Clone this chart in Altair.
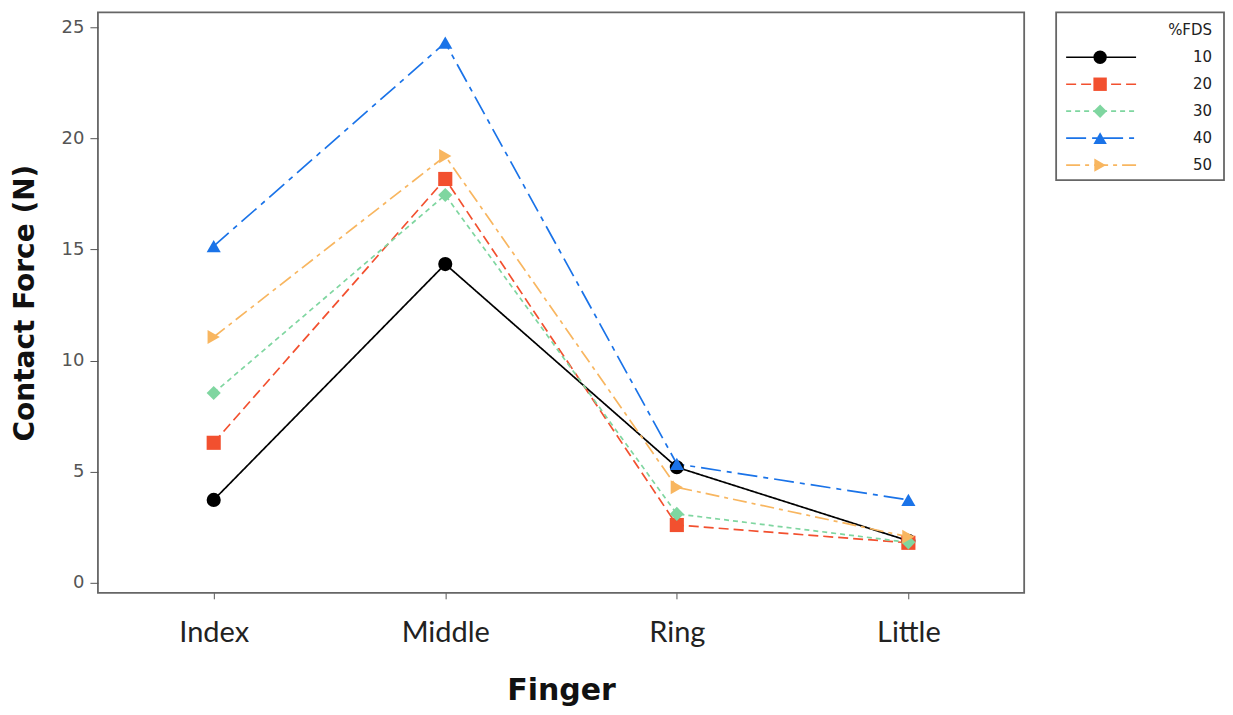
import altair as alt
import pandas as pd

fingers = ["Index", "Middle", "Ring", "Little"]
series = ["10", "20", "30", "40", "50"]
values = {
    "10": [3.73, 14.34, 5.2, 1.89],
    "20": [6.3, 18.17, 2.6, 1.8],
    "30": [8.54, 17.45, 3.1, 1.82],
    "40": [15.15, 24.3, 5.35, 3.73],
    "50": [11.06, 19.2, 4.3, 2.07],
}
colors = ["#000000", "#F2502F", "#7FD6A0", "#1A73E8", "#F8B660"]
shapes = ["circle", "square", "diamond", "triangle-up", "triangle-right"]
dashes = [[1, 0], [10, 5], [5, 4], [20, 6, 5, 6], [14, 5, 4, 5]]

rows = []
for s in series:
    for f, v in zip(fingers, values[s]):
        rows.append({"FDS": s, "Finger": f, "Force": v})
df = pd.DataFrame(rows)

leg = pd.DataFrame({"FDS": series, "row": list(range(1, len(series) + 1))})

color_scale = alt.Scale(domain=series, range=colors)
shape_scale = alt.Scale(domain=series, range=shapes)
dash_scale = alt.Scale(domain=series, range=dashes)

x_enc = alt.X(
    "Finger:N", sort=fingers, title="Finger",
    scale=alt.Scale(paddingOuter=0.5),
    axis=alt.Axis(labelAngle=0, labelFont="Lato", labelFontSize=29, labelColor="#222222",
                  labelPadding=20, tickSize=6, tickColor="#555555", domain=False,
                  titleFont="DejaVu Sans", titleFontSize=30, titleFontWeight="bold",
                  titleColor="#111111", titlePadding=28),
)
y_enc = alt.Y(
    "Force:Q", title="Contact Force (N)",
    scale=alt.Scale(domain=[-0.45, 25.67], nice=False, zero=False),
    axis=alt.Axis(values=[0, 5, 10, 15, 20, 25], grid=False, domain=False,
                  labelFont="DejaVu Sans", labelFontSize=18, labelColor="#555555",
                  labelPadding=6, tickSize=8, tickColor="#555555",
                  titleFont="DejaVu Sans", titleFontSize=28, titleFontWeight="bold",
                  titleColor="#111111", titlePadding=22),
)

base = alt.Chart(df)
lines = base.mark_line(strokeWidth=1.7).encode(
    x=x_enc, y=y_enc,
    color=alt.Color("FDS:N", scale=color_scale, legend=None),
    strokeDash=alt.StrokeDash("FDS:N", scale=dash_scale, legend=None),
    detail="FDS:N",
)
points = base.mark_point(filled=True, size=200, opacity=1).encode(
    x=x_enc, y=y_enc,
    color=alt.Color("FDS:N", scale=color_scale, legend=None),
    shape=alt.Shape("FDS:N", scale=shape_scale, legend=None),
)
main = alt.layer(lines, points).properties(width=927, height=581)

ly = alt.Y("row:Q", scale=alt.Scale(domain=[-0.667, 5.556], reverse=True, nice=False, zero=False), axis=None)
lbase = alt.Chart(leg)
lrule = lbase.mark_rule(strokeWidth=1.7).encode(
    x=alt.value(10), x2=alt.value(80), y=ly,
    color=alt.Color("FDS:N", scale=color_scale, legend=None),
    strokeDash=alt.StrokeDash("FDS:N", scale=dash_scale, legend=None),
)
lpoint = lbase.mark_point(filled=True, size=180, opacity=1).encode(
    x=alt.value(44), y=ly,
    color=alt.Color("FDS:N", scale=color_scale, legend=None),
    shape=alt.Shape("FDS:N", scale=shape_scale, legend=None),
)
ltext = lbase.mark_text(align="right", baseline="middle", font="DejaVu Sans", fontSize=15, color="#222222").encode(
    x=alt.value(156), y=ly, text="FDS:N",
)
ltitle = alt.Chart(pd.DataFrame({"t": ["%FDS"], "row": [0]})).mark_text(
    align="right", baseline="middle", font="DejaVu Sans", fontSize=15, color="#222222"
).encode(x=alt.value(156), y=ly, text="t:N")
legend_panel = alt.layer(lrule, lpoint, ltext, ltitle).properties(width=168, height=168)

chart = alt.hconcat(main, legend_panel, spacing=30).properties(
    padding={"left": 2, "top": 3, "right": 0, "bottom": 5}
).configure(background="white").configure_view(stroke="#666666", strokeWidth=1.8)

chart.save("out.html", embed_options={"renderer": "svg", "actions": False})
